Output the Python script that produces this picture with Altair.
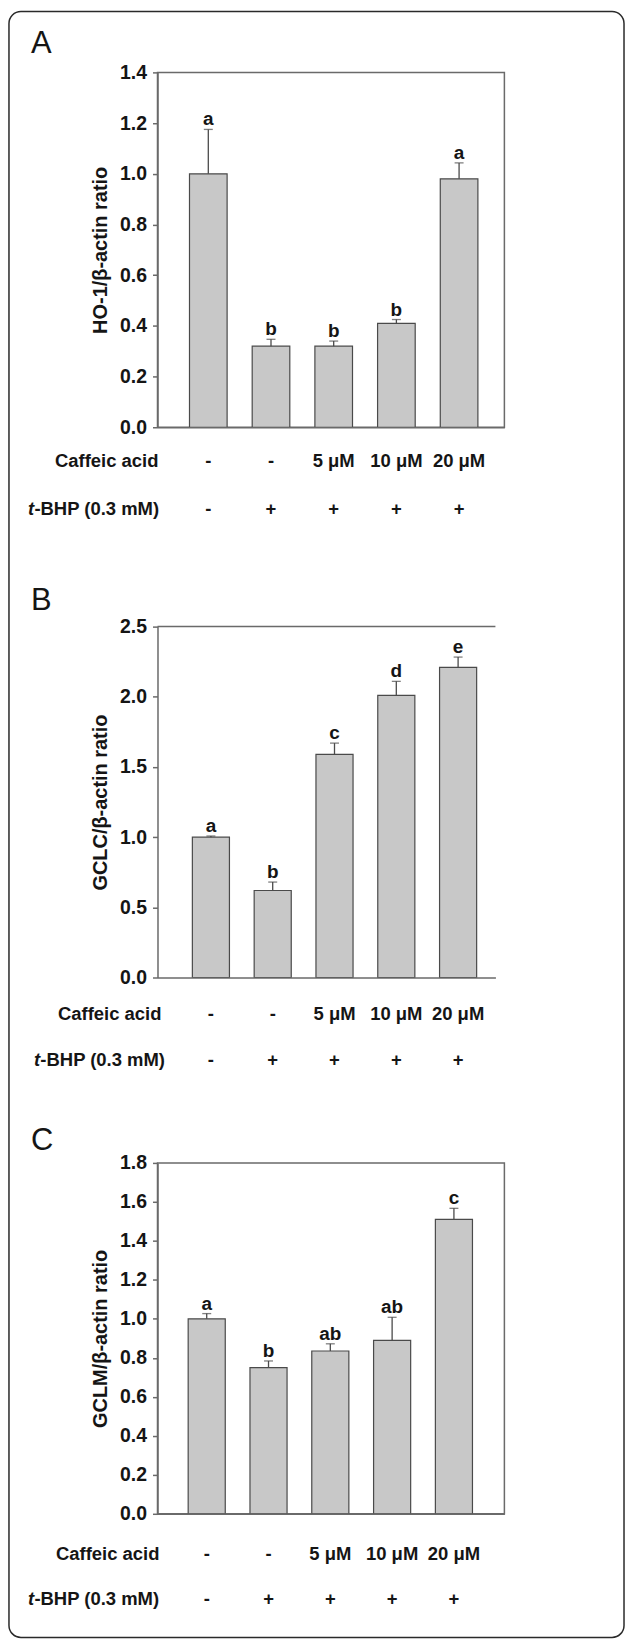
import altair as alt
import pandas as pd

# ---------------- data ----------------
categories = ["Control", "t-BHP", "CA 5", "CA 10", "CA 20"]
caffeic_labels = ["-", "-", "5 μM", "10 μM", "20 μM"]
tbhp_labels = ["-", "+", "+", "+", "+"]

ho1_mean = [1.00, 0.32, 0.32, 0.41, 0.98]
ho1_sem = [0.175, 0.027, 0.020, 0.015, 0.063]
ho1_sig = ["a", "b", "b", "b", "a"]
ho1_ticks = [0.0, 0.2, 0.4, 0.6, 0.8, 1.0, 1.2, 1.4]

gclc_mean = [1.00, 0.62, 1.59, 2.01, 2.21]
gclc_sem = [0.008, 0.060, 0.080, 0.100, 0.073]
gclc_sig = ["a", "b", "c", "d", "e"]
gclc_ticks = [0.0, 0.5, 1.0, 1.5, 2.0, 2.5]

gclm_mean = [1.00, 0.75, 0.835, 0.89, 1.51]
gclm_sem = [0.027, 0.034, 0.037, 0.118, 0.057]
gclm_sig = ["a", "b", "ab", "ab", "c"]
gclm_ticks = [0.0, 0.2, 0.4, 0.6, 0.8, 1.0, 1.2, 1.4, 1.6, 1.8]

FONT = "Liberation Sans"
BAR_FILL = "#c8c8c8"
BAR_LINE = "#4a4a4a"
AXIS = "#6a6a6a"
TEXT = "#151515"
FS = 18.5

one = pd.DataFrame({"k": [0]})


def panel(letter, mean, sem, sig, ticks, ytitle, width, height, range_top,
          pad_outer, align, box, caff_y, tbhp_y, letter_y, caff_x, t_x, frame=False):
    df = pd.DataFrame({
        "cat": categories,
        "mean": mean,
        "upper": [m + s for m, s in zip(mean, sem)],
        "sig": sig,
        "caff": caffeic_labels,
        "tbhp": tbhp_labels,
    })
    base = alt.Chart(df)
    xenc = alt.X(
        "cat:N", sort=categories,
        scale=alt.Scale(paddingInner=0.4, paddingOuter=pad_outer, align=align),
        axis=alt.Axis(title=None, labels=False, ticks=False, domainColor=AXIS,
                      domainWidth=1.5, zindex=1),
    )
    yscale = alt.Scale(domain=[ticks[0], ticks[-1]], nice=False, zero=True,
                       range=[height, range_top])
    yaxis = alt.Axis(
        values=ticks, format=".1f", grid=False, tickCount=len(ticks),
        domainColor=AXIS, domainWidth=1.5, tickColor=AXIS, tickWidth=1.5, tickSize=5,
        labelFont=FONT, labelFontSize=19.5, labelFontWeight="bold", labelColor=TEXT,
        labelPadding=6, labelOverlap=False, labelBound=False,
        titleFont=FONT, titleFontSize=20, titleFontWeight="bold", titleColor=TEXT,
        titlePadding=9, zindex=1,
    )

    def Y(field):
        return alt.Y(field, title=ytitle, scale=yscale, axis=yaxis)

    bars = base.mark_bar(fill=BAR_FILL, stroke=BAR_LINE, strokeWidth=1.2).encode(
        x=xenc, y=Y("mean:Q")
    )
    err = base.mark_rule(color=BAR_LINE, strokeWidth=1.3).encode(
        x=xenc, y=Y("mean:Q"), y2="upper:Q"
    )
    cap = base.mark_tick(color=BAR_LINE, size=9, thickness=1.3).encode(
        x=xenc, y=Y("upper:Q")
    )
    letters = base.mark_text(font=FONT, fontSize=19, fontWeight="bold", color=TEXT,
                             baseline="alphabetic", dy=-4).encode(
        x=xenc, y=Y("upper:Q"), text="sig:N"
    )
    caff = base.mark_text(font=FONT, fontSize=FS, fontWeight="bold", color=TEXT,
                          baseline="alphabetic").encode(
        x=xenc, y=alt.value(caff_y), text="caff:N"
    )
    tbhp = base.mark_text(font=FONT, fontSize=FS, fontWeight="bold", color=TEXT,
                          baseline="alphabetic").encode(
        x=xenc, y=alt.value(tbhp_y), text="tbhp:N"
    )
    lab = alt.Chart(one)
    caff_lab = lab.mark_text(font=FONT, fontSize=FS, fontWeight="bold", color=TEXT,
                             align="right", baseline="alphabetic").encode(
        x=alt.value(caff_x), y=alt.value(caff_y), text=alt.value("Caffeic acid"))
    t_lab = lab.mark_text(font=FONT, fontSize=FS, fontWeight="bold", fontStyle="italic",
                          color=TEXT, align="left", baseline="alphabetic").encode(
        x=alt.value(t_x), y=alt.value(tbhp_y), text=alt.value("t"))
    bhp_lab = lab.mark_text(font=FONT, fontSize=FS, fontWeight="bold", color=TEXT,
                            align="left", baseline="alphabetic").encode(
        x=alt.value(t_x + 6.5), y=alt.value(tbhp_y), text=alt.value("-BHP (0.3 mM)"))
    let = lab.mark_text(font=FONT, fontSize=31, color=TEXT, align="left",
                        baseline="alphabetic").encode(
        x=alt.value(-127), y=alt.value(letter_y), text=alt.value(letter))

    layers = []
    if frame:
        anchor = lab.mark_rect(fill="transparent", strokeWidth=0).encode(
            x=alt.value(-157), x2=alt.value(470), y=alt.value(-69), y2=alt.value(1571))
        border = lab.mark_rect(fill="transparent", stroke="#2a2a2a", strokeWidth=1.5,
                               cornerRadius=12).encode(
            x=alt.value(-149), x2=alt.value(468), y=alt.value(-61), y2=alt.value(1570))
        layers += [anchor, border]
    if not box:
        top = lab.mark_rule(color=AXIS, strokeWidth=1.5).encode(
            y=alt.YDatum(ticks[-1], title=ytitle, scale=yscale, axis=yaxis))
        layers.append(top)
    layers += [bars, err, cap, letters, caff, tbhp, caff_lab, t_lab, bhp_lab, let]
    ch = alt.layer(*layers).properties(width=width, height=height)
    if box:
        ch = ch.properties(view=alt.ViewBackground(stroke=AXIS, strokeWidth=1.5))
    return ch


pA = panel("A", ho1_mean, ho1_sem, ho1_sig, ho1_ticks, "HO-1/β-actin ratio",
           348, 356, 0, 0.4665, 0.547, True, 396, 444, -19, 1, -130, frame=True)
pB = panel("B", gclc_mean, gclc_sem, gclc_sig, gclc_ticks, "GCLC/β-actin ratio",
           339, 366, 14, 0.434, 0.65, False, 409, 455, -3, 4, -124)
pC = panel("C", gclm_mean, gclm_sem, gclm_sig, gclm_ticks, "GCLM/β-actin ratio",
           348, 352, 0, 0.5065, 0.49, True, 398, 443, -13, 2, -130)

chart = alt.vconcat(pA, pB, pC, spacing=186, bounds="flush").properties(
    padding=0
).configure(font=FONT).configure_view(stroke="transparent")

chart.save("out.html", embed_options={"renderer": "svg", "actions": False})
